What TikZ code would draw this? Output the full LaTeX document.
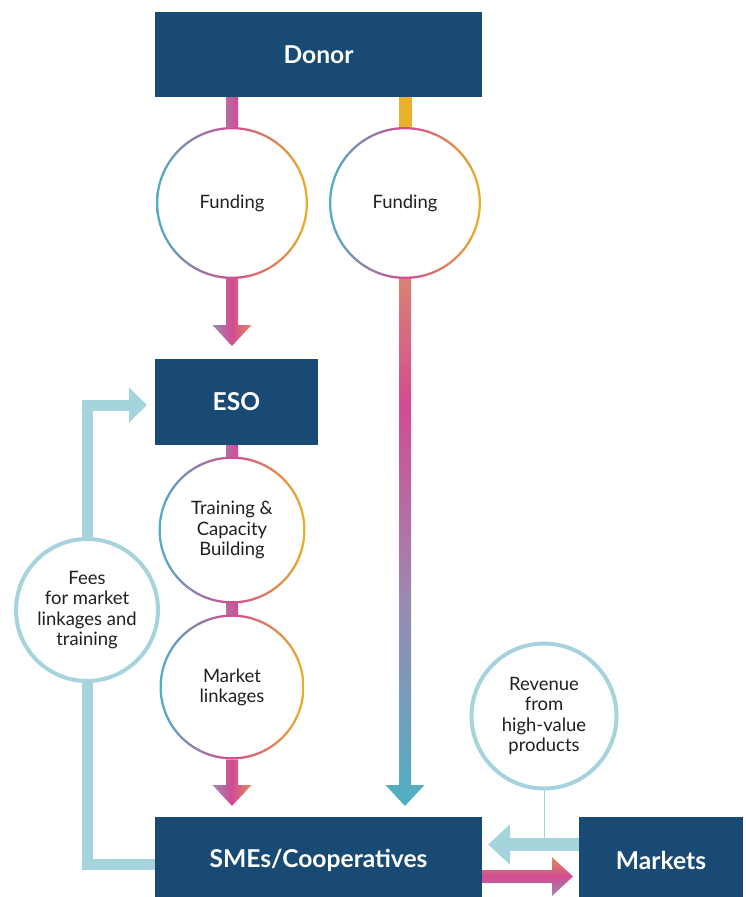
\documentclass[tikz,border=0pt]{standalone}
\usepackage{fontspec}
\setmainfont{Lato}
\usetikzlibrary{positioning,calc,arrows.meta}
\definecolor{ctblue}{HTML}{184A73}
\definecolor{ctteal}{HTML}{4FB0C3}
\definecolor{ctpink}{HTML}{D24C92}
\definecolor{ctgold}{HTML}{E9B12A}
\definecolor{ctpurple}{HTML}{9A8BB2}
\definecolor{ctsalmon}{HTML}{D98273}
\definecolor{ctorange}{HTML}{E38B5C}
\definecolor{ctlight}{HTML}{A6D4DC}
\definecolor{cttext}{HTML}{231F20}
\pgfdeclareverticalshading{fundfall}{100bp}{color(0bp)=(ctteal); color(25bp)=(ctteal);
  color(44bp)=(ctpurple); color(63bp)=(ctpink); color(75bp)=(ctsalmon); color(100bp)=(ctsalmon)}
% block arrow pointing down: start, tip, shading
\newcommand{\blockdown}[3]{%
  \shade[#3] ($(#1)+(-.12,0)$) -- ($(#2)+(-.12,.42)$) -- ($(#2)+(-.39,.42)$) -- (#2)
    -- ($(#2)+(.39,.42)$) -- ($(#2)+(.12,.42)$) -- ($(#1)+(.12,0)$) -- cycle;}
\begin{document}
\begin{tikzpicture}[
    box/.style={fill=ctblue, text=white, inner sep=0pt, outer sep=0pt,
      font=\fontsize{14}{16}\selectfont\bfseries},
    ring/.style={circle, fill=white, inner sep=0pt, outer sep=0pt, align=center,
      text=cttext, font=\fontsize{10.5}{11.5}\selectfont,
      path picture={\shade[left color=ctteal, right color=ctgold, middle color=ctpink, even odd rule]
        let \p1=($(path picture bounding box.north)-(path picture bounding box.center)$) in
        (path picture bounding box.center) circle (\y1) circle (\y1-1.3pt);}},
    feering/.style={circle, draw=ctlight, line width=.08cm, fill=white, inner sep=0pt,
      outer sep=0pt, align=center, text=cttext, font=\fontsize{10.5}{11.5}\selectfont},
    feeline/.style={draw=ctlight, line width=.22cm},
    headmix/.style={left color=ctpurple, right color=ctorange, middle color=ctpink},
    shaftmix/.style={left color=ctpurple!55!ctpink, right color=ctpink}
  ]
  \useasboundingbox (0,0) rectangle (14.92,-17.94);

  \node[box, minimum width=6.54cm, minimum height=1.7cm] (donor) at (6.37,-1.09) {Donor};
  \node[box, minimum width=3.26cm, minimum height=1.72cm] (eso) at (4.73,-8.04) {ESO};
  \node[box, minimum width=6.54cm, minimum height=1.72cm] (sme) at (6.37,-17.2) {SMEs/Cooperatives};
  \node[box, minimum width=3.28cm, minimum height=1.72cm] (markets) at (13.22,-17.2) {Markets};

  \node[ring, minimum size=3.04cm] (fund1) at (4.64,-4.06) {Funding};
  \node[ring, minimum size=3.04cm] (fund2) at (8.10,-4.06) {Funding};
  \node[ring, minimum size=2.94cm] (train) at (4.64,-10.6) {Training \&\\Capacity\\Building};
  \node[ring, minimum size=2.9cm] (mlink) at (4.64,-13.74) {Market\\linkages};
  \node[feering, minimum size=2.84cm] (fees) at (1.74,-12.2) {Fees\\for market\\linkages and\\training};
  \node[feering, minimum size=2.9cm] (revenue) at (10.88,-14.32) {Revenue\\from\\high-value\\products};

  % funding column
  \shade[shaftmix] ($(donor.south -| fund1)+(-.12,0)$) rectangle ($(fund1.north)+(.12,0)$);
  \coordinate (tip1) at ($(eso.north -| fund1)+(0,.26)$);
  \blockdown{fund1.south}{tip1}{headmix}
  \fill[ctgold] ($(donor.south -| fund2)+(-.13,0)$) rectangle ($(fund2.north)+(.13,0)$);
  \coordinate (tip2) at ($(sme.north -| fund2)+(0,.22)$);
  \blockdown{fund2.south}{tip2}{shading=fundfall}

  % services
  \shade[shaftmix] ($(eso.south -| train)+(-.12,0)$) rectangle ($(train.north)+(.12,0)$);
  \shade[shaftmix] ($(train.south)+(-.12,0)$) rectangle ($(mlink.north)+(.12,0)$);
  \coordinate (tip3) at ($(sme.north -| mlink)+(0,.22)$);
  \blockdown{mlink.south}{tip3}{headmix}

  % fees back to ESO
  \draw[feeline] ($(sme.west)+(0,-.09)$) -| (fees.south);
  \draw[feeline, -{Triangle[length=.36cm, width=.68cm]}] (fees.north) |- ($(eso.west)+(-.16,-.06)$);

  % markets
  \coordinate (revmid) at ($(markets.west)+(0,.31)$);
  \draw[ctlight, line width=.02cm] (revenue.south) -- (revenue.south |- revmid);
  \draw[ctlight, line width=.26cm, -{Triangle[length=.44cm, width=.78cm]}]
    (revmid) -- ($(sme.east)+(.12,.31)$);
  \shade[top color=ctorange, bottom color=ctpurple, middle color=ctpink]
    ($(sme.east)+(0,-.20)$) -- ($(markets.west)+(-.54,-.20)$) -- ($(markets.west)+(-.54,.06)$)
    -- ($(markets.west)+(-.12,-.33)$) -- ($(markets.west)+(-.54,-.72)$)
    -- ($(markets.west)+(-.54,-.46)$) -- ($(sme.east)+(0,-.46)$) -- cycle;
\end{tikzpicture}
\end{document}
